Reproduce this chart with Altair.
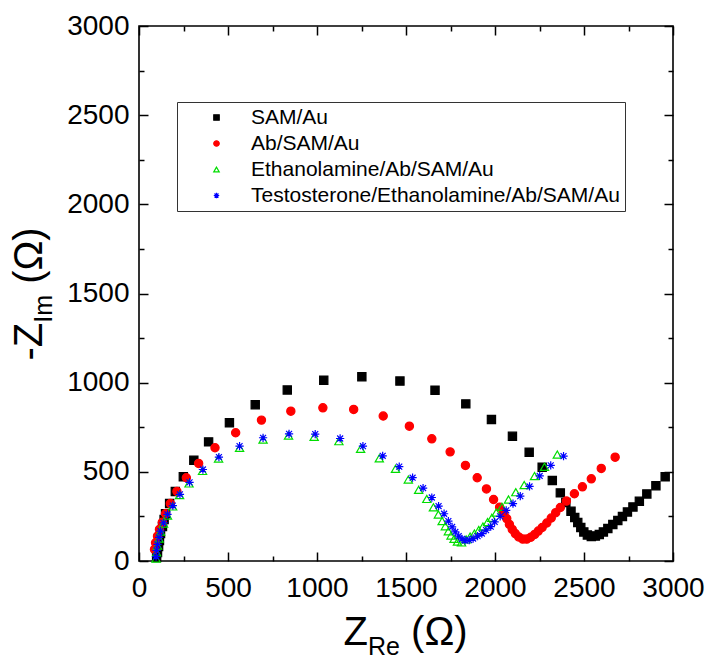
import altair as alt
import pandas as pd

series_names = ["SAM/Au", "Ab/SAM/Au", "Ethanolamine/Ab/SAM/Au",
                "Testosterone/Ethanolamine/Ab/SAM/Au"]

sam_x = [99, 104, 110, 115, 121, 132, 141, 149, 172, 204, 249, 308, 391, 508, 653, 833,
         1038, 1252, 1466, 1663, 1836, 1980, 2098, 2192, 2265, 2322, 2367, 2398, 2427, 2448, 2465, 2482,
         2499, 2519, 2541, 2564, 2586, 2609, 2634, 2662, 2690, 2716, 2744, 2775, 2811, 2853, 2904, 2956]
sam_y = [20, 48, 81, 115, 154, 193, 233, 265, 322, 390, 472, 565, 668, 775, 876, 959,
         1014, 1033, 1009, 958, 881, 793, 699, 610, 526, 451, 382, 328, 279, 244, 216, 188,
         163, 146, 137, 140, 149, 163, 182, 205, 227, 250, 275, 303, 335, 376, 422, 472]

ab_x = [87, 93, 104, 115, 131, 149, 176, 213, 266, 335, 427, 543, 688, 853, 1033, 1206,
        1372, 1519, 1645, 1748, 1834, 1900, 1952, 1992, 2026, 2049, 2066, 2081, 2097, 2114, 2133, 2156,
        2178, 2201, 2223, 2243, 2265, 2291, 2316, 2341, 2367, 2401, 2446, 2491, 2541, 2597, 2675]
ab_y = [65, 102, 139, 177, 217, 265, 322, 390, 467, 547, 635, 719, 790, 840, 859, 850,
        813, 756, 685, 612, 536, 467, 404, 345, 302, 270, 238, 205, 177, 154, 135, 123,
        123, 133, 149, 168, 188, 213, 241, 271, 300, 336, 377, 416, 461, 519, 582]

eth_x = [96, 99, 104, 113, 121, 138, 160, 189, 228, 281, 357, 447, 565, 697, 840, 984,
         1123, 1245, 1350, 1441, 1513, 1571, 1617, 1654, 1682, 1703, 1721, 1738, 1753, 1770, 1789, 1812,
         1838, 1860, 1884, 1909, 1932, 1958, 1982, 2007, 2039, 2076, 2117, 2164, 2222, 2278, 2350]
eth_y = [14, 48, 87, 126, 165, 210, 255, 306, 370, 435, 505, 575, 635, 681, 703, 696,
         672, 629, 576, 517, 457, 399, 348, 301, 261, 224, 195, 167, 143, 124, 109, 104,
         121, 137, 154, 174, 193, 218, 242, 272, 304, 345, 386, 426, 476, 528, 597]

tes_x = [96, 99, 104, 113, 121, 138, 160, 190, 230, 284, 359, 449, 565, 697, 843, 990,
         1130, 1258, 1369, 1462, 1537, 1596, 1645, 1683, 1714, 1738, 1759, 1777, 1796, 1814, 1832, 1855,
         1877, 1902, 1926, 1950, 1976, 1998, 2029, 2063, 2101, 2142, 2194, 2251, 2313, 2385]
tes_y = [25, 59, 93, 132, 168, 214, 261, 311, 374, 441, 513, 583, 644, 691, 713, 712,
         687, 644, 590, 529, 467, 409, 356, 308, 265, 224, 191, 163, 140, 124, 115, 117,
         126, 139, 154, 173, 193, 219, 250, 284, 322, 364, 418, 477, 536, 588]

major_ticks = [0, 500, 1000, 1500, 2000, 2500, 3000]
minor_ticks = [250, 750, 1250, 1750, 2250, 2750]

rows = []
for name, xs, ys in zip(series_names, [sam_x, ab_x, eth_x, tes_x], [sam_y, ab_y, eth_y, tes_y]):
    for a, b in zip(xs, ys):
        rows.append({"series": name, "zre": a, "zim": b})
df = pd.DataFrame(rows)

FONT = "Liberation Sans"
W, H = 534, 535
MAJ, MIN = 9, 5
ASTERISK = "M-1,0L1,0M0,-1L0,1M-0.72,-0.72L0.72,0.72M-0.72,0.72L0.72,-0.72"

xscale = alt.Scale(domain=[0, 3000], nice=False, zero=False)
yscale = alt.Scale(domain=[0, 3000], nice=False, zero=False)


def ax(orient, values, size, labels, pad=10):
    kw = dict(orient=orient, values=values, tickSize=size, offset=-size, labels=labels,
              domain=False, grid=False, title=None, tickColor="black", tickWidth=1.5,
              labelFlush=False, format="d")
    if labels:
        kw.update(labelFont=FONT, labelFontSize=28, labelColor="black", labelPadding=pad)
    return alt.Axis(**kw)


def leg():
    return alt.Legend(
        title=None, orient="none", legendX=38, legendY=76, strokeColor="#333333",
        fillColor="white", padding=5, labelFont=FONT, labelFontSize=21, labelColor="black",
        symbolSize=30, symbolOffset=24, labelOffset=24, rowPadding=4, symbolStrokeWidth=1.2,
        labelLimit=600,
    )


base = alt.Chart(df)

points = base.mark_point(opacity=1, strokeWidth=1.2, filled=False, size=68).encode(
    x=alt.X("zre:Q", scale=xscale, axis=ax("bottom", major_ticks, MAJ, True, 13)),
    y=alt.Y("zim:Q", scale=yscale, axis=ax("left", major_ticks, MAJ, True, 10)),
    shape=alt.Shape("series:N", legend=leg(),
                    scale=alt.Scale(domain=series_names,
                                    range=["square", "circle", "triangle-up", ASTERISK])),
    fill=alt.Fill("series:N", legend=leg(),
                  scale=alt.Scale(domain=series_names,
                                  range=["#000000", "#ff0000", "transparent", "transparent"])),
    stroke=alt.Stroke("series:N", legend=leg(),
                      scale=alt.Scale(domain=series_names,
                                      range=["#000000", "#ff0000", "#00dd00", "#0000ff"])),
)

hidden1 = base.mark_point(opacity=0).encode(
    x=alt.X("zre:Q", scale=xscale, axis=ax("bottom", minor_ticks, MIN, False)),
    y=alt.Y("zim:Q", scale=yscale, axis=ax("left", minor_ticks, MIN, False)),
)
hidden2 = base.mark_point(opacity=0).encode(
    x=alt.X("zre:Q", scale=xscale, axis=ax("top", major_ticks, MAJ, False)),
    y=alt.Y("zim:Q", scale=yscale, axis=ax("right", major_ticks, MAJ, False)),
)
hidden3 = base.mark_point(opacity=0).encode(
    x=alt.X("zre:Q", scale=xscale, axis=ax("top", minor_ticks, MIN, False)),
    y=alt.Y("zim:Q", scale=yscale, axis=ax("right", minor_ticks, MIN, False)),
)


def txt(s, x, y, size, angle=0):
    return alt.Chart(pd.DataFrame({"t": [s]})).mark_text(
        font=FONT, fontSize=size, align="left", baseline="alphabetic", angle=angle, color="black"
    ).encode(x=alt.value(x), y=alt.value(y), text="t:N")


BIG, SUB = 40, 25
SP = 0.278 * BIG
# x title: Z_Re (Ω), centred on plot
xt_w = 0.611 * BIG + 1.278 * SUB + SP + 1.434 * BIG
xt0 = W / 2 - xt_w / 2
xt_base = 619
x_title = [
    txt("Z", xt0, xt_base, BIG),
    txt("Re", xt0 + 0.611 * BIG, xt_base + 10, SUB),
    txt("(Ω)", xt0 + 0.611 * BIG + 1.278 * SUB + SP, xt_base, BIG),
]
# y title: -Z_Im (Ω), rotated
yt_w = 0.944 * BIG + 1.111 * SUB + SP + 1.434 * BIG
yt0 = H / 2 + yt_w / 2
yt_base = -97
y_title = [
    txt("-Z", yt_base, yt0, BIG, 270),
    txt("Im", yt_base + 10, yt0 - 0.944 * BIG, SUB, 270),
    txt("(Ω)", yt_base, yt0 - 0.944 * BIG - 1.111 * SUB - SP, BIG, 270),
]

chart = alt.layer(points, hidden1, hidden2, hidden3, *x_title, *y_title).resolve_axis(
    x="independent", y="independent"
).properties(
    width=W, height=H,
    autosize=alt.AutoSizeParams(type="none"),
    padding={"left": 139, "top": 26, "right": 706 - 139 - W, "bottom": 659 - 26 - H},
    background="white",
).configure_view(
    stroke="black", strokeWidth=1.6
)

chart.save("out.html", embed_options={"renderer": "svg", "actions": False})
